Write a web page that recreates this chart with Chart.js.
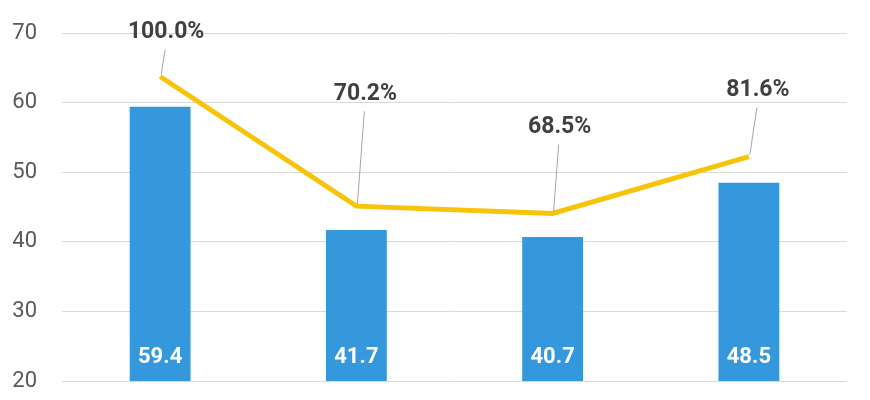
<!DOCTYPE html>
<html>
<head>
<meta charset="utf-8">
<script src="https://cdn.jsdelivr.net/npm/chart.js@4/dist/chart.umd.min.js"></script>
<style>
  html, body { margin: 0; padding: 0; background: #fff; }
  #wrap { width: 870px; height: 400px; }
</style>
</head>
<body>
<div id="wrap"><canvas id="chart"></canvas></div>
<script>
// data
const categories = ['A', 'B', 'C', 'D'];
const barValues = [59.4, 41.7, 40.7, 48.5];
const ratioValues = [100.0, 70.2, 68.5, 81.6];
const yTicks = [20, 30, 40, 50, 60, 70];

// where each percentage label sits relative to its point (px)
const labelOffsets = [[6, -44], [9, -112], [7, -86], [9, -66]];

const FONT = 'Roboto, "Noto Sans", sans-serif';

const labelsPlugin = {
  id: 'labels',
  afterDatasetsDraw(chart) {
    const ctx = chart.ctx;
    const bars = chart.getDatasetMeta(1).data;
    const pts = chart.getDatasetMeta(0).data;
    ctx.save();
    ctx.textAlign = 'center';
    ctx.textBaseline = 'middle';
    // values inside bars, near the bottom
    ctx.font = 'bold 22px ' + FONT;
    ctx.fillStyle = '#ffffff';
    bars.forEach((b, i) => {
      ctx.fillText(barValues[i].toFixed(1), b.x, chart.chartArea.bottom - 24);
    });
    // percentages with leader lines
    pts.forEach((p, i) => {
      const lx = p.x + labelOffsets[i][0], ly = p.y + labelOffsets[i][1];
      ctx.strokeStyle = '#a6a6a6';
      ctx.lineWidth = 1;
      ctx.beginPath();
      ctx.moveTo(p.x + 1, p.y - 2);
      ctx.lineTo(lx - 1, ly + 17);
      ctx.stroke();
      ctx.fillStyle = '#404040';
      ctx.font = 'bold 23px ' + FONT;
      ctx.fillText(ratioValues[i].toFixed(1) + '%', lx, ly);
    });
    ctx.restore();
  }
};

new Chart(document.getElementById('chart'), {
  type: 'bar',
  data: {
    labels: categories,
    datasets: [
      { type: 'line', data: ratioValues, yAxisID: 'y1', borderColor: '#f7c409', borderWidth: 5, pointRadius: 0, tension: 0, order: 0 },
      { type: 'bar', data: barValues, yAxisID: 'y', backgroundColor: '#3598dc', barPercentage: 0.31, categoryPercentage: 1, order: 1 }
    ]
  },
  options: {
    responsive: true,
    maintainAspectRatio: false,
    animation: false,
    layout: { padding: { top: 33, bottom: 19, right: 23, left: 0 } },
    plugins: { legend: { display: false }, tooltip: { enabled: false } },
    scales: {
      x: { display: false },
      y: {
        min: yTicks[0], max: yTicks[yTicks.length - 1],
        afterBuildTicks: s => { s.ticks = yTicks.map(v => ({ value: v })); },
        afterFit: s => { s.width = 62; s.paddingTop = 0; s.paddingBottom = 0; },
        border: { display: false },
        grid: { color: '#d9d9d9', lineWidth: 1, drawTicks: false },
        ticks: { color: '#595959', font: { family: FONT, size: 22 }, padding: 25 }
      },
      y1: { display: false, min: 30, max: 110 }
    }
  },
  plugins: [labelsPlugin]
});
</script>
</body>
</html>
